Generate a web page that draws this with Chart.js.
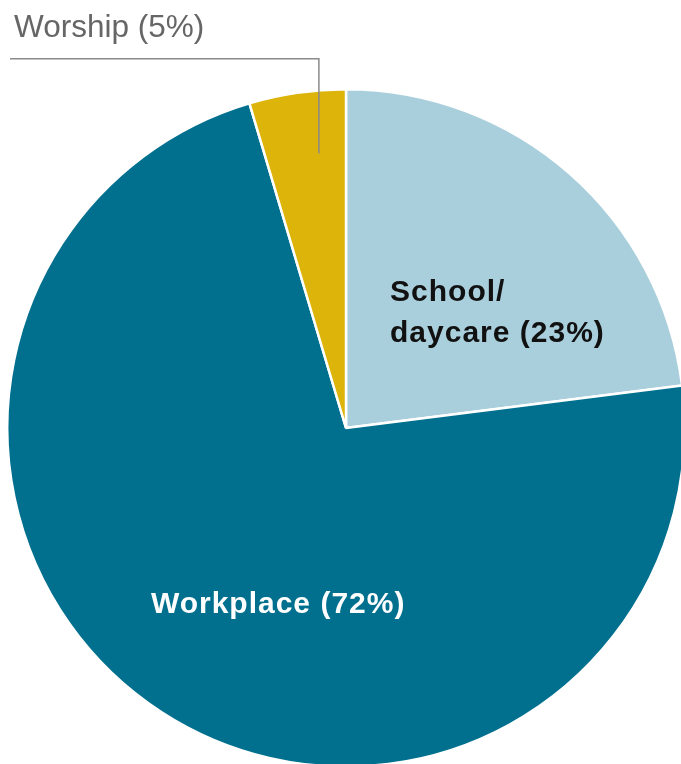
<!DOCTYPE html>
<html>
<head>
<meta charset="utf-8">
<script src="https://cdn.jsdelivr.net/npm/chart.js@4.4.0/dist/chart.umd.min.js"></script>
<style>
  html, body { margin: 0; padding: 0; background: #fff; overflow: hidden; }
  #wrap { position: absolute; left: 0; top: 0; width: 692px; height: 856px; }
</style>
</head>
<body>
<div id="wrap"><canvas id="pieChart"></canvas></div>
<script>
// Share of cases by setting (labels show rounded values)
const categories = ['School/ daycare', 'Workplace', 'Worship'];
const shares = [23, 72.4, 4.6];
const sliceColors = ['#aacfdc', '#00708e', '#ddb40a'];

const pct = v => Math.round(v) + '%';

// Draws the slice labels and the leader line for the small slice
const labelPlugin = {
  id: 'sliceLabels',
  afterDatasetsDraw(chart) {
    const c = chart.ctx;
    const arcs = chart.getDatasetMeta(0).data;
    const cx = arcs[0].x, cy = arcs[0].y, r = arcs[0].outerRadius;
    c.save();
    c.textBaseline = 'alphabetic';
    c.textAlign = 'left';
    c.letterSpacing = '1px';

    // School / daycare, inside slice, two lines
    c.fillStyle = '#111';
    c.font = 'bold 30px "Liberation Sans", Arial, sans-serif';
    c.fillText('School/', cx + 0.13 * r, cy - 0.376 * r);
    c.fillText('daycare (' + pct(shares[0]) + ')', cx + 0.13 * r, cy - 0.253 * r);

    // Workplace, inside slice, white
    c.fillStyle = '#fff';
    c.fillText('Workplace (' + pct(shares[1]) + ')', cx - 0.576 * r, cy + 0.545 * r);

    // Worship, outside with leader line
    c.strokeStyle = '#8a8a8a';
    c.lineWidth = 1.5;
    c.beginPath();
    c.moveTo(cx - 0.08 * r, cy - 0.81 * r);
    c.lineTo(cx - 0.08 * r, cy - 1.09 * r);
    c.lineTo(10, cy - 1.09 * r);
    c.stroke();

    c.letterSpacing = '0px';
    c.fillStyle = '#666';
    c.font = '31.5px "Liberation Sans", Arial, sans-serif';
    c.fillText('Worship (' + pct(shares[2]) + ')', 14, 37);
    c.restore();
  }
};

const ctx = document.getElementById('pieChart').getContext('2d');
const pieChart = new Chart(ctx, {
  type: 'pie',
  data: {
    labels: categories,
    datasets: [{
      data: shares,
      backgroundColor: sliceColors,
      borderColor: '#fff',
      borderWidth: 2.5
    }]
  },
  options: {
    responsive: true,
    maintainAspectRatio: false,
    devicePixelRatio: 1,
    animation: false,
    layout: { padding: 6 },
    plugins: {
      legend: { display: false },
      tooltip: { enabled: false }
    }
  },
  plugins: [labelPlugin]
});
</script>
</body>
</html>
